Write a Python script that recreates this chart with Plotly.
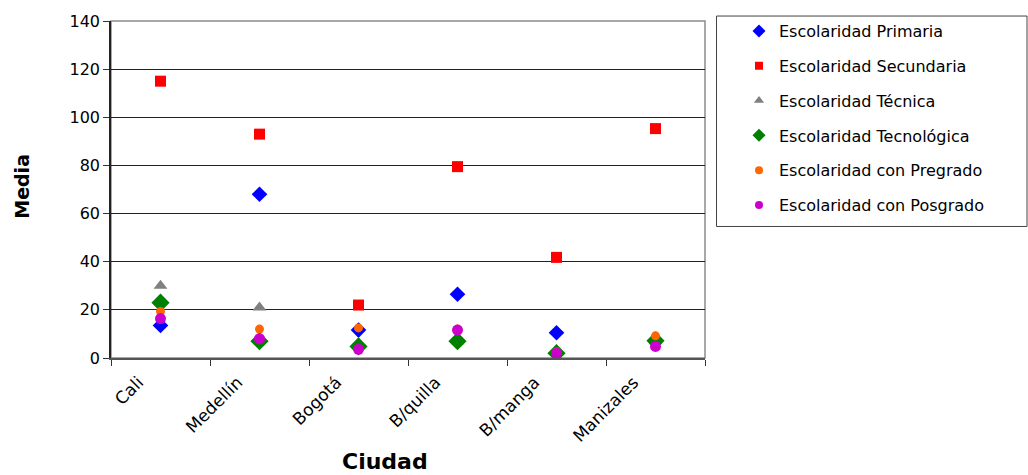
import plotly.graph_objects as go

# Cities on the x axis
ciudades = ["Cali", "Medellín", "Bogotá", "B/quilla", "B/manga", "Manizales"]

# Mean value per schooling level and city
primaria = [13.5, 68, 11.6, 26.5, 10.5, 7]
secundaria = [115, 93, 22, 79.5, 41.8, 95.3]
tecnica = [30, 21, 6, 7, 2.5, 7]
tecnologica = [23, 7, 4.8, 7, 2, 7.2]
pregrado = [19.3, 12, 12.5, 12, 2.5, 9.2]
posgrado = [16.4, 8, 3.6, 11.6, 2, 4.8]

FONT = "DejaVu Sans, Liberation Sans, Arial, sans-serif"

# name, values, colour, symbol, plot size, legend size
series = [
    ("Escolaridad Primaria", primaria, "#0000FF", "diamond", 12, 10),
    ("Escolaridad Secundaria", secundaria, "#FF0000", "square", 11, 8),
    ("Escolaridad Técnica", tecnica, "#808080", "triangle-up", 12, 9),
    ("Escolaridad Tecnológica", tecnologica, "#008000", "diamond", 14, 10),
    ("Escolaridad con Pregrado", pregrado, "#FF6600", "circle", 9, 8),
    ("Escolaridad con Posgrado", posgrado, "#CC00CC", "circle", 11, 8),
]

fig = go.Figure()
for i, (name, vals, color, symbol, size, lsize) in enumerate(series):
    fig.add_trace(go.Scatter(
        x=ciudades, y=vals, name=name, mode="markers", showlegend=False,
        marker=dict(color=color, symbol=symbol, size=size, line=dict(width=0)),
    ))
# Legend entries with smaller symbols
for i, (name, vals, color, symbol, size, lsize) in enumerate(series):
    fig.add_trace(go.Scatter(
        x=[None], y=[None], name=name, mode="markers", legendgroup=f"g{i}",
        marker=dict(color=color, symbol=symbol, size=lsize, line=dict(width=0)),
    ))

# Plot-area border (top and right edges in gray)
fig.add_shape(type="rect", xref="paper", yref="paper", x0=0, y0=0, x1=1, y1=1,
              line=dict(color="#8c8c8c", width=1.5), layer="below")
# Legend frame
fig.add_shape(type="rect", xref="paper", yref="paper",
              x0=(716.5 - 111) / 594, x1=(1027 - 111) / 594,
              y0=(357.5 - 225) / 339.5, y1=(357.5 - 13) / 339.5,
              line=dict(color="#444", width=1))

# Axis titles
fig.add_annotation(text="<b>Ciudad</b>", xref="paper", yref="paper",
                   x=(385 - 111) / 594, y=(357.5 - 462) / 339.5,
                   xanchor="center", yanchor="middle", showarrow=False,
                   font=dict(family=FONT, size=22, color="black"))
fig.add_annotation(text="<b>Media</b>", xref="paper", yref="paper",
                   x=(22 - 111) / 594, y=(357.5 - 185) / 339.5, textangle=-90,
                   xanchor="center", yanchor="middle", showarrow=False,
                   font=dict(family=FONT, size=19, color="black"))

fig.update_layout(
    width=1028, height=475,
    margin=dict(l=111, r=323, t=18, b=117),
    plot_bgcolor="white", paper_bgcolor="white",
    font=dict(family=FONT, size=16, color="black"),
    showlegend=True,
    legend=dict(
        x=(739 - 111) / 594, y=(357.5 - 11) / 339.5, xanchor="left", yanchor="top",
        bgcolor="rgba(0,0,0,0)", borderwidth=0,
        font=dict(family=FONT, size=16, color="black"),
        traceorder="grouped", tracegroupgap=11,
    ),
    xaxis=dict(
        type="category", tickson="boundaries", tickangle=-45,
        showgrid=False, zeroline=False,
        showline=True, linecolor="#555", linewidth=1.5,
        ticks="outside", ticklen=6, tickcolor="#333",
        tickfont=dict(family=FONT, size=17),
        ticklabelshift=-22, ticklabelstandoff=6,
        range=[-0.5, 5.5],
    ),
    yaxis=dict(
        range=[0, 140], dtick=20,
        showgrid=True, gridcolor="#222", gridwidth=1,
        zeroline=False,
        showline=True, linecolor="#222", linewidth=1.5,
        ticks="outside", ticklen=6, tickcolor="#333",
        tickfont=dict(family=FONT, size=16),
    ),
)

fig.write_html("out.html")
